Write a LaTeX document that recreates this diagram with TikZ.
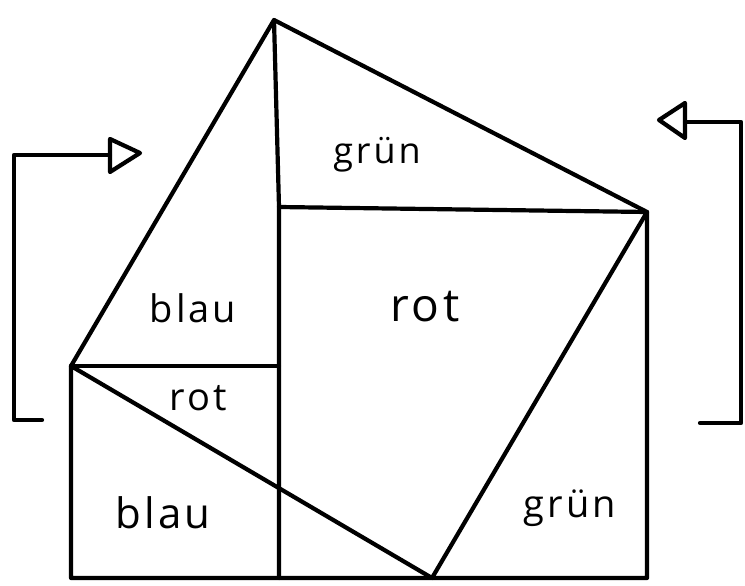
\documentclass[tikz,border=0pt]{standalone}
\usepackage{fontspec}
\setmainfont{Open Sans}
\begin{document}
\begin{tikzpicture}[x=1pt,y=-1pt,
  ink/.style={line width=4.2pt, line join=round, line cap=round},
  lbl/.style={inner sep=0pt},
  fs/.style={font=\fontsize{#1}{#1}\selectfont\addfontfeature{LetterSpace=8}}]
\useasboundingbox (0,0) rectangle (745,586);
% vertices
\coordinate (T) at (274,20);
\coordinate (R) at (647,212);
\coordinate (L) at (71,366);
\coordinate (B) at (432,578);
\coordinate (BL) at (71,578);
\coordinate (BR) at (647,578);
\coordinate (VB) at (279,578);
\coordinate (VM) at (279,207);
\coordinate (VL) at (279,366);
% main figure
\draw[ink] (T) -- (R) -- (BR) -- (BL) -- (L) -- cycle;
\draw[ink] (T) -- (VM) -- (VB);
\draw[ink] (VM) -- (R);
\draw[ink] (L) -- (VL);
\draw[ink] (L) -- (B) -- (R);
% left arrow
\coordinate (la0) at (42,420);
\coordinate (la1) at (14,420);
\coordinate (la2) at (14,155);
\coordinate (la3) at (110,155);
\draw[ink] (la0) -- (la1) -- (la2) -- (la3);
\draw[ink] (110,139) -- (140,153) -- (110,172) -- cycle;
% right arrow
\coordinate (ra0) at (700,423);
\coordinate (ra1) at (741,423);
\coordinate (ra2) at (741,122);
\coordinate (ra3) at (685,122);
\draw[ink] (ra0) -- (ra1) -- (ra2) -- (ra3);
\draw[ink] (685,103) -- (659,120) -- (685,138) -- cycle;
% labels
\node[lbl, fs=36] (g1) at (377,155) {grün};
\node[lbl, fs=38] (b1) at (193,308) {blau};
\node[lbl, fs=46] (r1) at (425,307) {rot};
\node[lbl, fs=38] (r2) at (198,398) {rot};
\node[lbl, fs=42] (b2) at (163,513) {blau};
\node[lbl, fs=38] (g2) at (570,508) {grün};
\end{tikzpicture}
\end{document}
